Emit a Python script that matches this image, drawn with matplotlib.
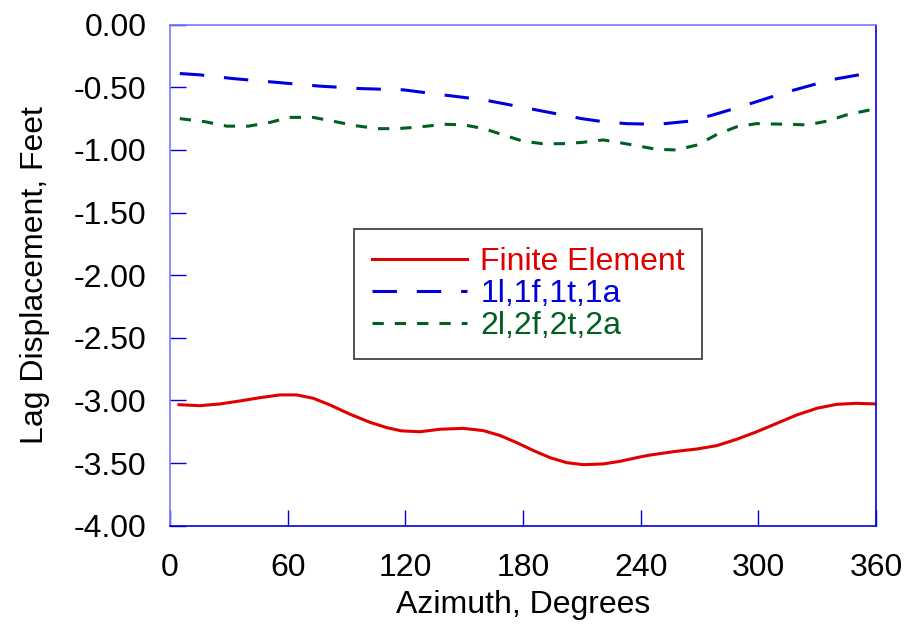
import matplotlib
matplotlib.use("Agg")
import matplotlib.pyplot as plt

# Finite Element
fe_az = [4.6, 15.3, 25.5, 35.7, 45.9, 56.1, 64.6, 73.1, 81.6, 91.8, 102, 110.5, 118,
         127.5, 137.7, 149.6, 159.8, 168.3, 176.8, 185.3, 193.8, 202.3, 210.8, 221,
         229.5, 238.8, 244.8, 256.7, 268.6, 278.8, 289, 299.2, 309.4, 319.6, 329.8,
         340, 350.2, 360]
fe_val = [-3.034, -3.042, -3.028, -3.004, -2.978, -2.956, -2.956, -2.983, -3.036, -3.11,
          -3.175, -3.217, -3.243, -3.25, -3.23, -3.223, -3.241, -3.28, -3.337, -3.40,
          -3.457, -3.497, -3.513, -3.507, -3.486, -3.454, -3.436, -3.409, -3.388,
          -3.361, -3.31, -3.25, -3.183, -3.116, -3.063, -3.031, -3.023, -3.028]

# 1l,1f,1t,1a
m1_az = [5, 15, 32, 54, 76, 97, 119, 139, 160, 180, 200, 210, 221, 233, 249, 265,
         277, 292, 314, 337, 355, 360]
m1_val = [-0.39, -0.40, -0.43, -0.46, -0.49, -0.51, -0.52, -0.56, -0.60, -0.66, -0.72,
          -0.75, -0.775, -0.79, -0.795, -0.77, -0.72, -0.65, -0.54, -0.44, -0.39, -0.39]

# 2l,2f,2t,2a
m2_az = [5, 18, 29, 40, 51, 61, 73, 83, 94, 106, 116, 128, 140, 150, 160, 170, 180,
         190, 200, 210, 221, 236, 248, 258, 269, 279, 289, 299, 315, 325, 335, 345, 357]
m2_val = [-0.75, -0.775, -0.81, -0.81, -0.78, -0.74, -0.74, -0.77, -0.805, -0.83, -0.83,
          -0.815, -0.795, -0.80, -0.83, -0.88, -0.93, -0.95, -0.95, -0.94, -0.92, -0.96,
          -0.995, -1.00, -0.96, -0.875, -0.815, -0.79, -0.795, -0.80, -0.77, -0.72, -0.68]

labels = ["Finite Element", "1l,1f,1t,1a", "2l,2f,2t,2a"]
xticks = [0, 60, 120, 180, 240, 300, 360]
yticks = [0.0, -0.5, -1.0, -1.5, -2.0, -2.5, -3.0, -3.5, -4.0]

plt.rcParams['font.family'] = ['Liberation Sans', 'DejaVu Sans']

fig = plt.figure(figsize=(9.12, 6.27), dpi=100)
ax = fig.add_axes([0.1864, 0.1616, 0.7741, 0.799])

red = '#e00000'
blue = '#0000dd'
green = '#006020'

l1, = ax.plot(fe_az, fe_val, color=red, lw=2.2, solid_joinstyle='round')
l2, = ax.plot(m1_az, m1_val, color=blue, lw=2.2, dashes=(8, 6.5))
l3, = ax.plot(m2_az, m2_val, color=green, lw=2.2, dashes=(3.7, 3.6))

ax.set_xlim(0, 360)
ax.set_ylim(-4.0, 0.0)
ax.set_xticks(xticks)
ax.set_xticklabels([str(t) for t in xticks])
ax.set_yticks(yticks)
ax.set_yticklabels([f"{t:.2f}" for t in yticks])

ax.tick_params(axis='both', direction='in', length=11.5, width=1, color=blue,
               labelsize=23)
ax.tick_params(axis='x', pad=20)
ax.tick_params(axis='y', pad=17)

for side in ['left', 'top']:
    ax.spines[side].set_color('#7878ff')
for side in ['right', 'bottom']:
    ax.spines[side].set_color(blue)
for s in ax.spines.values():
    s.set_linewidth(1.2)

ax.set_xlabel("Azimuth, Degrees", fontsize=23, labelpad=5)
ax.set_ylabel("Lag Displacement, Feet", fontsize=23, labelpad=17)

leg = ax.legend([l1, l2, l3], labels, loc='upper left',
                bbox_to_anchor=(0.2606, 0.5916), borderaxespad=0,
                fontsize=23, handlelength=3.0, handletextpad=0.4,
                labelspacing=0.07, borderpad=0.55, fancybox=False,
                framealpha=1, edgecolor='#333333')
leg.get_frame().set_linewidth(1.2)
for txt, c in zip(leg.get_texts(), [red, blue, green]):
    txt.set_color(c)

fig.savefig("out.png", dpi=100)
